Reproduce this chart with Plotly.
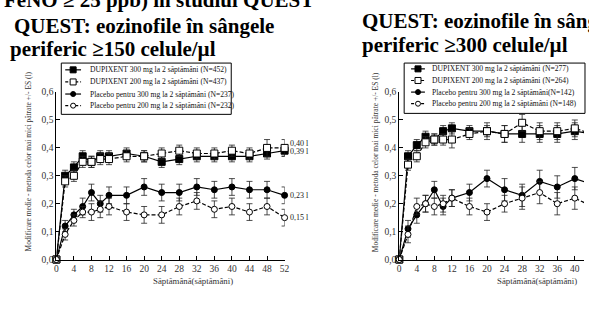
import plotly.graph_objects as go

W, H = 589, 310
FONT = "'Liberation Serif', 'Times New Roman', Times, serif"

# ---------------- data ----------------
weeks = [0, 2, 4, 6, 8, 10, 12, 16, 20, 24, 28, 32, 36, 40, 44, 48, 52]
xticks = [0, 4, 8, 12, 16, 20, 24, 28, 32, 36, 40, 44, 48, 52]
yticks = [0.0, 0.1, 0.2, 0.3, 0.4, 0.5, 0.6]

# Left panel: eosinophils >= 150 cells/ul
l_dup300 = [0.0, 0.30, 0.33, 0.37, 0.35, 0.37, 0.37, 0.38, 0.37, 0.35, 0.36, 0.37, 0.37, 0.37, 0.37, 0.38, 0.39]
l_dup200 = [0.0, 0.28, 0.30, 0.35, 0.35, 0.36, 0.36, 0.37, 0.37, 0.38, 0.39, 0.38, 0.38, 0.39, 0.38, 0.40, 0.40]
l_pl300 = [0.0, 0.12, 0.16, 0.19, 0.24, 0.20, 0.23, 0.23, 0.26, 0.24, 0.24, 0.26, 0.25, 0.26, 0.25, 0.25, 0.23]
l_pl200 = [0.0, 0.09, 0.14, 0.17, 0.17, 0.18, 0.19, 0.17, 0.16, 0.16, 0.19, 0.21, 0.18, 0.19, 0.17, 0.19, 0.15]
l_dup300_se = [0, .02, .02, .02, .02, .02, .02, .02, .02, .02, .02, .02, .02, .02, .02, .02, .02]
l_dup200_se = [0, .02, .02, .02, .02, .02, .02, .02, .02, .02, .02, .02, .02, .02, .02, .03, .03]
l_pl300_se = [0, .02, .02, .03, .03, .03, .03, .03, .03, .03, .03, .03, .03, .03, .03, .03, .03]
l_pl200_se = [0, .02, .02, .02, .03, .03, .03, .03, .03, .03, .03, .03, .03, .03, .03, .03, .03]

# Right panel: eosinophils >= 300 cells/ul (visible part)
r_weeks = [0, 2, 4, 6, 8, 10, 12, 16, 20, 24, 28, 32, 36, 40, 44]
r_dup300 = [0.0, 0.37, 0.41, 0.44, 0.43, 0.46, 0.47, 0.46, 0.46, 0.45, 0.45, 0.45, 0.45, 0.46, 0.45]
r_dup200 = [0.0, 0.34, 0.37, 0.42, 0.43, 0.43, 0.43, 0.45, 0.46, 0.45, 0.49, 0.46, 0.46, 0.47, 0.45]
r_pl300 = [0.0, 0.11, 0.16, 0.20, 0.25, 0.19, 0.22, 0.24, 0.29, 0.25, 0.23, 0.28, 0.26, 0.29, 0.27]
r_pl200 = [0.0, 0.09, 0.19, 0.20, 0.19, 0.20, 0.22, 0.19, 0.17, 0.20, 0.22, 0.24, 0.20, 0.22, 0.19]
r_dup300_se = [0, .02, .02, .02, .02, .02, .02, .02, .02, .03, .03, .03, .03, .03, .03]
r_dup200_se = [0, .02, .02, .02, .02, .02, .03, .02, .03, .03, .03, .03, .03, .03, .03]
r_pl300_se = [0, .03, .03, .03, .03, .03, .03, .03, .03, .04, .04, .04, .04, .04, .04]
r_pl200_se = [0, .03, .03, .03, .03, .03, .03, .03, .03, .03, .04, .04, .04, .04, .04]

l_legend = ["DUPIXENT 300 mg la 2 săptămâni (N=452)",
            "DUPIXENT 200 mg la 2 săptămâni (N=437)",
            "Placebo pentru 300 mg la 2 săptămâni (N=237)",
            "Placebo pentru 200 mg la 2 săptămâni (N=232)"]
r_legend = ["DUPIXENT 300 mg la 2 săptămâni (N=277)",
            "DUPIXENT 200 mg la 2 săptămâni (N=264)",
            "Placebo pentru 300 mg la 2 săptămâni(N=142)",
            "Placebo pentru 200 mg la 2 săptămâni (N=148)"]

ytitle = "Modificare medie - metoda celor mai mici pătrate +/- ES (l)"
xtitle = "Săptămână(săptămâni)"

# ---------------- helpers ----------------
def px(x):
    return x / W

def py(y):
    return 1 - y / H

STYLES = [
    dict(symbol="square", size=7, fill="black", dash="solid"),
    dict(symbol="square", size=7, fill="white", dash="4px,2px"),
    dict(symbol="circle", size=6, fill="black", dash="solid"),
    dict(symbol="circle", size=6, fill="white", dash="4px,2px"),
]

fig = go.Figure()

def add_series(x, y, se, st, xa, ya):
    fig.add_trace(go.Scatter(
        x=x, y=y, mode="lines+markers", xaxis=xa, yaxis=ya,
        line=dict(color="black", width=1.2, dash=st["dash"]),
        marker=dict(symbol=st["symbol"], size=st["size"], color=st["fill"],
                    line=dict(color="black", width=1)),
        error_y=dict(type="data", array=se, color="#222", thickness=0.8, width=3),
        cliponaxis=False, showlegend=False, hoverinfo="skip"))

left = [(l_dup300, l_dup300_se), (l_dup200, l_dup200_se), (l_pl300, l_pl300_se), (l_pl200, l_pl200_se)]
right = [(r_dup300, r_dup300_se), (r_dup200, r_dup200_se), (r_pl300, r_pl300_se), (r_pl200, r_pl200_se)]
for (y, se), st in zip(left, STYLES):
    add_series(weeks, y, se, st, "x", "y")
for (y, se), st in zip(right, STYLES):
    add_series(r_weeks, y, se, st, "x2", "y2")

# ---------------- legends (drawn manually on a pixel overlay axis) ----------------
def draw_legend(box, sym_x, text_x, rows, labels):
    x0, y0, x1, y1 = box
    fig.add_shape(type="rect", xref="paper", yref="paper", layer="below",
                  x0=px(x0), x1=px(x1), y0=py(y1), y1=py(y0),
                  line=dict(color="black", width=1), fillcolor="white")
    for ry, lab, st in zip(rows, labels, STYLES):
        fig.add_trace(go.Scatter(
            x=[sym_x[0], sym_x[2]], y=[ry, ry], mode="lines", xaxis="x3", yaxis="y3",
            line=dict(color="black", width=1.2, dash=st["dash"] if st["dash"] == "solid" else "3px,2px"),
            showlegend=False, hoverinfo="skip"))
        fig.add_trace(go.Scatter(
            x=[sym_x[1]], y=[ry], mode="markers", xaxis="x3", yaxis="y3",
            marker=dict(symbol=st["symbol"], size=st["size"] - 1, color=st["fill"],
                        line=dict(color="black", width=1)),
            showlegend=False, hoverinfo="skip"))
        fig.add_annotation(x=px(text_x), y=py(ry), xref="paper", yref="paper",
                           text=lab, showarrow=False, xanchor="left", yanchor="middle",
                           font=dict(family=FONT, size=7.6, color="#111"))

draw_legend((60, 60, 232, 113), (64, 72, 80), 87, [67, 79.5, 92, 104], l_legend)
draw_legend((407, 60, 590, 112), (414, 421, 428), 433, [66, 78, 90, 102], r_legend)

# ---------------- end labels ----------------
end_vals = [l_dup200[-1], l_dup300[-1], l_pl300[-1], l_pl200[-1]]
end_shift = [4, -1, 0, 0]
for v, s in zip(end_vals, end_shift):
    fig.add_annotation(x=weeks[-1], y=v, xref="x", yref="y", text=f"{v:.2f}".replace(".", ",") + " l",
                       showarrow=False, xanchor="left", yanchor="middle", xshift=3, yshift=s,
                       font=dict(family=FONT, size=8, color="#222"))

# ---------------- titles ----------------
def title(text, x, y):
    fig.add_annotation(x=px(x), y=py(y), xref="paper", yref="paper", text=text,
                       showarrow=False, xanchor="left", yanchor="middle",
                       font=dict(family=FONT, size=21, color="black"))

title("<b>FeNO ≥ 25 ppb) în studiul QUEST</b>", 0, -5)
title("<b>QUEST: eozinofile în sângele</b>", 10, 22)
title("<b>periferic ≥150 celule/µl</b>", 6, 45)
title("<b>QUEST: eozinofile în sângele</b>", 362, 17)
title("<b>periferic ≥300 celule/µl</b>", 362, 41)

for xc, yc in [(27, 162), (378, 163)]:
    fig.add_annotation(x=px(xc), y=py(yc), xref="paper", yref="paper", text=ytitle,
                       textangle=-90, showarrow=False, xanchor="center", yanchor="middle",
                       font=dict(family=FONT, size=7.5, color="#333"))
for xc in [193, 541]:
    fig.add_annotation(x=px(xc), y=py(285), xref="paper", yref="paper", text=xtitle,
                       showarrow=False, xanchor="center", yanchor="middle",
                       font=dict(family=FONT, size=8.8, color="#333"))

# ---------------- axes ----------------
axis_common = dict(showline=True, linecolor="black", linewidth=1, ticks="inside", ticklen=4,
                   tickcolor="black", showgrid=False, zeroline=False,
                   tickfont=dict(family=FONT, size=9.5, color="#333"), fixedrange=True)
ydom = [py(263), py(90)]
fig.update_layout(
    width=W, height=H, margin=dict(l=0, r=0, t=0, b=0),
    paper_bgcolor="white", plot_bgcolor="rgba(0,0,0,0)",
    separators=",.", showlegend=False,
    font=dict(family=FONT),
    xaxis=dict(domain=[px(55), px(286)], range=[0, 52], tickvals=xticks, anchor="y", **axis_common),
    yaxis=dict(domain=ydom, range=[0, 0.6], tickvals=yticks, tickformat=".1f", anchor="x", **axis_common),
    xaxis2=dict(domain=[px(402), 1], range=[0, (589 - 402) / (231 / 52)], tickvals=xticks, anchor="y2", **axis_common),
    yaxis2=dict(domain=ydom, range=[0, 0.6], tickvals=yticks, tickformat=".1f", anchor="x2", **axis_common),
    xaxis3=dict(domain=[0, 1], range=[0, W], visible=False, fixedrange=True, anchor="y3"),
    yaxis3=dict(domain=[0, 1], range=[H, 0], visible=False, fixedrange=True, anchor="x3"),
)

fig.write_html("out.html")
